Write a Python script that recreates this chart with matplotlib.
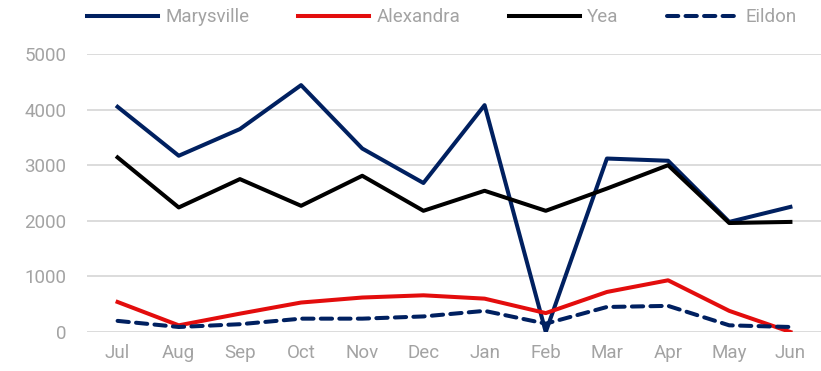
import matplotlib.pyplot as plt

# monthly values by town
months = ["Jul", "Aug", "Sep", "Oct", "Nov", "Dec", "Jan", "Feb", "Mar", "Apr", "May", "Jun"]
marysville = [4050, 3170, 3650, 4440, 3300, 2680, 4080, 0, 3120, 3080, 1980, 2250]
alexandra = [540, 120, 330, 530, 620, 660, 600, 340, 720, 930, 380, 0]
yea = [3140, 2240, 2750, 2270, 2810, 2180, 2540, 2180, 2580, 3000, 1960, 1980]
eildon = [200, 90, 140, 240, 240, 280, 380, 150, 450, 470, 120, 90]

plt.rcParams["font.family"] = ["Roboto", "DejaVu Sans"]
text_grey = "#a3a3a3"
navy = "#002060"
red = "#e30d0d"

fig = plt.figure(figsize=(8.21, 3.71), dpi=100)
ax = fig.add_axes([87 / 821, 1 - 332 / 371, 1 - 87 / 821, (332 - 54) / 371])

lw = 2.9
x = range(len(months))
ax.plot(x, marysville, color=navy, lw=lw, label="Marysville")
ax.plot(x, alexandra, color=red, lw=lw, label="Alexandra")
ax.plot(x, yea, color="black", lw=lw, label="Yea")
ax.plot(x, eildon, color=navy, lw=lw, label="Eildon", linestyle=(0, (2.8, 1.8)),
        dash_capstyle="round")

ax.set_xlim(-0.5, len(months) - 0.5)
ax.set_ylim(0, 5000)
ax.set_yticks(range(0, 5001, 1000))
ax.set_xticks(list(x))
ax.set_xticklabels(months)
ax.grid(axis="y", color="#d9d9d9", lw=1.3)
ax.set_axisbelow(True)
for side in ax.spines.values():
    side.set_visible(False)
ax.tick_params(length=0, labelsize=13.5, labelcolor=text_grey)
ax.tick_params(axis="y", pad=15)
ax.tick_params(axis="x", pad=9)

leg = fig.legend(loc="center left", bbox_to_anchor=(87 / 821, 1 - 17.5 / 371), ncol=4,
                 frameon=False, fontsize=13.5, handlelength=3.8, handletextpad=0.37,
                 columnspacing=2.6, borderpad=0, borderaxespad=0)
for t in leg.get_texts():
    t.set_color(text_grey)

fig.savefig("out.png", dpi=100)
